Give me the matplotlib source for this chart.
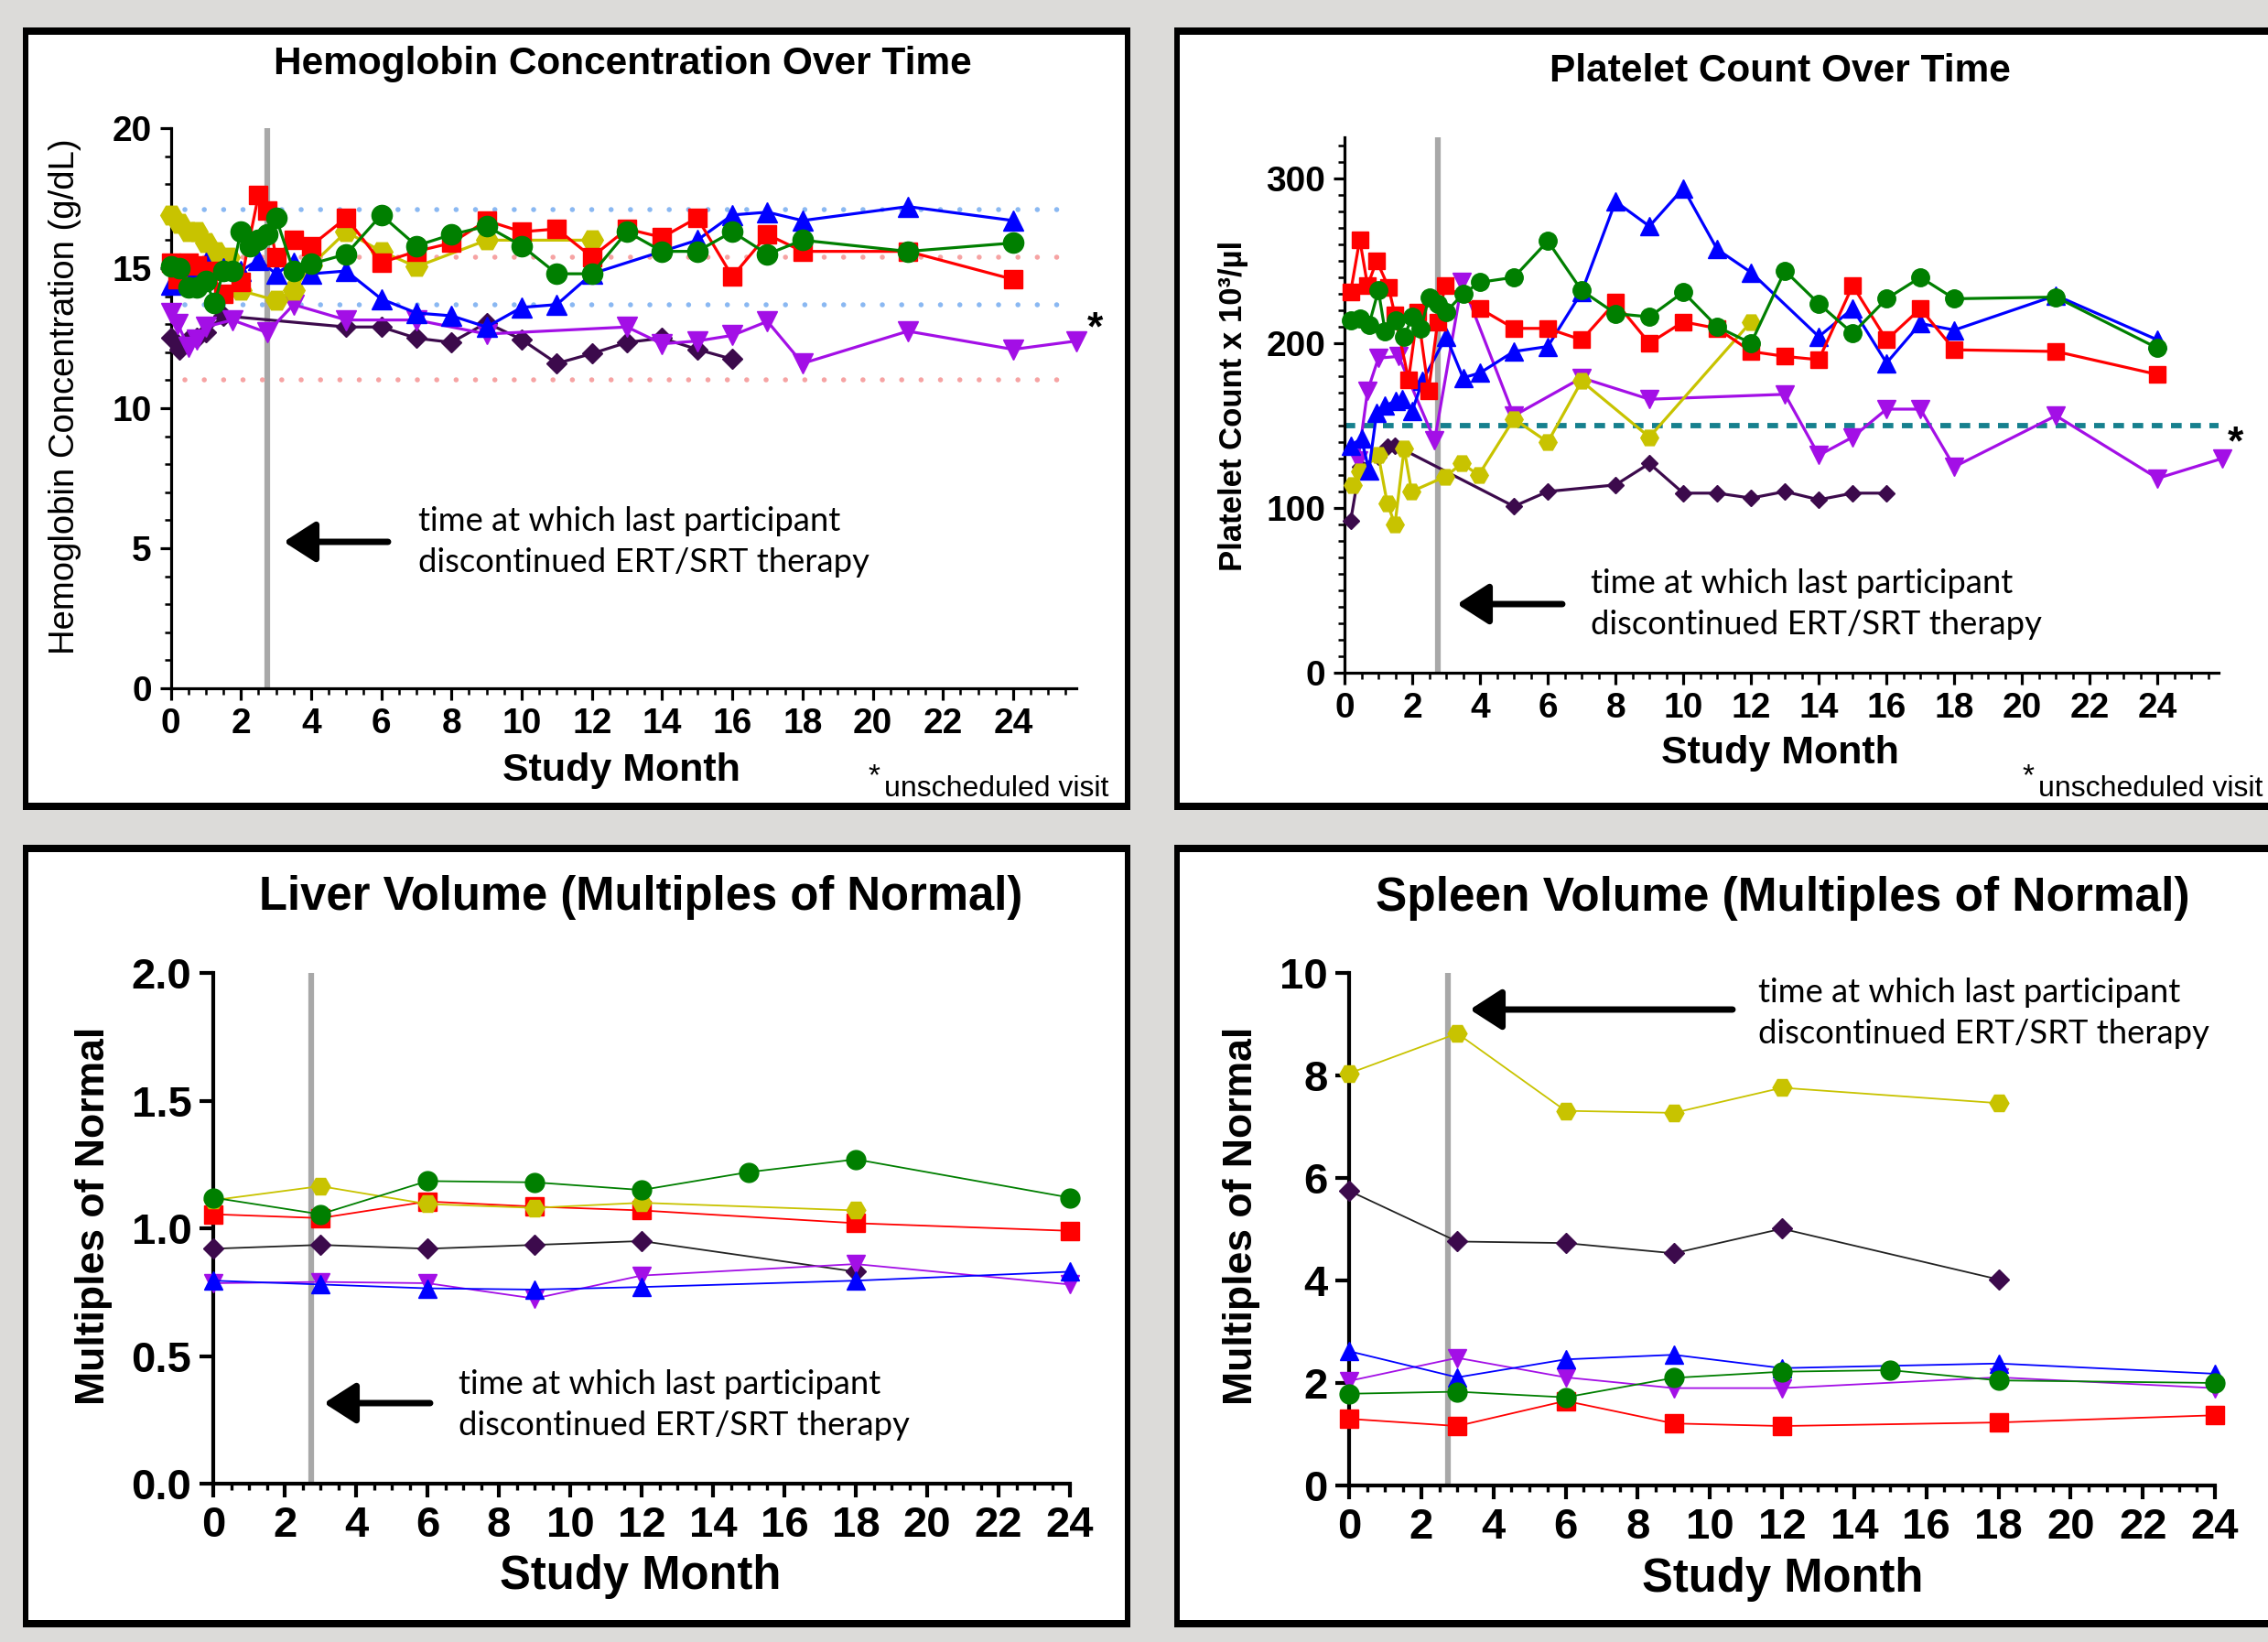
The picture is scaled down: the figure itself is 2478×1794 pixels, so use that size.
import matplotlib
matplotlib.use("Agg")
import matplotlib.pyplot as plt
from matplotlib.patches import Rectangle, FancyArrowPatch
from matplotlib.ticker import MultipleLocator, FormatStrFormatter

# ---------------- data ----------------
# Hemoglobin (g/dL)
hgb_t_dark = [0, 0.25, 0.5, 0.75, 1.0, 1.5, 5, 6, 7, 8, 9, 10, 11, 12, 13, 14, 15, 16]
hgb_dark = [12.5, 12.1, 12.45, 12.5, 12.7, 13.3, 12.9, 12.9, 12.5, 12.35, 13.05, 12.45, 11.6, 11.95, 12.35, 12.5, 12.1, 11.75]
hgb_t_purple = [0, 0.2, 0.5, 0.75, 1.0, 1.75, 2.75, 3.5, 5, 7, 9, 13, 14, 15, 16, 17, 18, 21, 24, 25.8]
hgb_purple = [13.4, 13.0, 12.2, 12.45, 12.9, 13.15, 12.7, 13.7, 13.15, 13.15, 12.65, 12.9, 12.3, 12.4, 12.6, 13.1, 11.6, 12.75, 12.1, 12.4]
hgb_t_yellow = [0, 0.25, 0.5, 0.75, 1.0, 1.3, 1.65, 2.0, 3.0, 3.5, 4, 5, 6, 7, 9, 12]
hgb_yellow = [16.9, 16.6, 16.3, 16.3, 15.9, 15.6, 15.4, 14.2, 13.85, 14.2, 15.1, 16.3, 15.6, 15.05, 16.0, 16.0]
hgb_t_blue = [0, 0.25, 0.5, 0.75, 1.0, 1.5, 2.0, 2.5, 3.0, 3.5, 4, 5, 6, 7, 8, 9, 10, 11, 12, 15, 16, 17, 18, 21, 24]
hgb_blue = [14.4, 14.8, 15.0, 14.8, 15.2, 15.0, 14.9, 15.3, 14.8, 15.2, 14.8, 14.9, 13.9, 13.4, 13.3, 12.9, 13.6, 13.7, 14.8, 16.0, 16.9, 17.0, 16.7, 17.2, 16.7]
hgb_t_red = [0, 0.2, 0.5, 0.75, 1.1, 1.5, 2.0, 2.5, 2.75, 3.0, 3.5, 4, 5, 6, 7, 8, 9, 10, 11, 12, 13, 14, 15, 16, 17, 18, 21, 24]
hgb_red = [15.2, 14.6, 15.2, 15.1, 14.9, 14.1, 14.5, 17.6, 17.05, 15.4, 16.0, 15.8, 16.8, 15.2, 15.6, 15.9, 16.7, 16.3, 16.4, 15.4, 16.4, 16.1, 16.8, 14.7, 16.2, 15.6, 15.6, 14.6]
hgb_t_green = [0, 0.25, 0.5, 0.75, 1.0, 1.25, 1.5, 1.75, 2.0, 2.25, 2.5, 2.75, 3.0, 3.5, 4, 5, 6, 7, 8, 9, 10, 11, 12, 13, 14, 15, 16, 17, 18, 21, 24]
hgb_green = [15.05, 15.0, 14.3, 14.3, 14.55, 13.75, 14.9, 14.9, 16.3, 15.8, 16.0, 16.2, 16.8, 14.9, 15.15, 15.5, 16.9, 15.8, 16.2, 16.5, 15.8, 14.8, 14.8, 16.3, 15.6, 15.6, 16.3, 15.5, 16.0, 15.6, 15.9]
hgb_ref_blue = [17.1, 13.7]
hgb_ref_red = [15.4, 11.0]

# Platelets (x10^3/ul)
plt_t_dark = [0.18, 0.45, 1.0, 1.26, 1.49, 5, 6, 8, 9, 10, 11, 12, 13, 14, 15, 16]
plt_dark = [92, 125, 131, 137, 138, 101, 110, 114, 127, 109, 109, 106, 110, 105, 109, 109]
plt_t_purple = [0.4, 0.68, 1.0, 1.6, 2.66, 3.47, 5, 7, 9, 13, 14, 15, 16, 17, 18, 21, 24, 25.9]
plt_purple = [129, 171, 191, 192, 141, 237, 156, 179, 166, 169, 132, 143, 160, 160, 125, 156, 118, 130]
plt_t_yellow = [0.23, 0.45, 1.0, 1.26, 1.49, 1.76, 1.98, 2.97, 3.47, 3.96, 5, 6, 7, 9, 12]
plt_yellow = [114, 122, 132, 103, 90, 136, 110, 119, 127, 120, 154, 140, 177, 143, 213]
plt_t_blue = [0.18, 0.5, 0.72, 0.95, 1.2, 1.5, 1.7, 2.0, 2.3, 3.0, 3.5, 4, 5, 6, 7, 8, 9, 10, 11, 12, 14, 15, 16, 17, 18, 21, 24]
plt_blue = [138, 142, 123, 158, 162, 165, 166, 159, 177, 204, 179, 182, 195, 198, 231, 286, 271, 294, 257, 243, 204, 221, 188, 212, 208, 229, 202]
plt_t_red = [0.18, 0.45, 0.68, 0.95, 1.3, 1.49, 1.89, 2.16, 2.48, 2.75, 2.97, 4, 5, 6, 7, 8, 9, 10, 11, 12, 13, 14, 15, 16, 17, 18, 21, 24]
plt_red = [231, 263, 235, 250, 234, 217, 178, 219, 171, 213, 235, 221, 209, 209, 202, 225, 200, 213, 209, 195, 192, 190, 235, 202, 221, 196, 195, 181]
plt_t_green = [0.18, 0.45, 0.72, 1.0, 1.2, 1.5, 1.76, 2.0, 2.25, 2.5, 2.75, 3.0, 3.5, 4, 5, 6, 7, 8, 9, 10, 11, 12, 13, 14, 15, 16, 17, 18, 21, 24]
plt_green = [214, 215, 211, 232, 207, 214, 204, 216, 209, 228, 224, 219, 230, 237, 240, 262, 232, 218, 216, 231, 210, 200, 244, 224, 206, 227, 240, 227, 228, 197]
plt_ref = 150

# Liver volume (multiples of normal)
liv_t_green = [0, 3, 6, 9, 12, 15, 18, 24]
liv_green = [1.12, 1.055, 1.185, 1.18, 1.15, 1.22, 1.27, 1.12]
liv_t_yellow = [0, 3, 6, 9, 12, 18]
liv_yellow = [1.11, 1.165, 1.095, 1.08, 1.10, 1.07]
liv_t_red = [0, 3, 6, 9, 12, 18, 24]
liv_red = [1.055, 1.04, 1.105, 1.085, 1.07, 1.02, 0.99]
liv_t_dark = [0, 3, 6, 9, 12, 18]
liv_dark = [0.92, 0.935, 0.92, 0.935, 0.95, 0.83]
liv_t_blue = [0, 3, 6, 9, 12, 18, 24]
liv_blue = [0.795, 0.78, 0.765, 0.76, 0.77, 0.795, 0.83]
liv_t_purple = [0, 3, 6, 9, 12, 18, 24]
liv_purple = [0.785, 0.79, 0.785, 0.725, 0.815, 0.86, 0.78]

# Spleen volume (multiples of normal)
spl_t_yellow = [0, 3, 6, 9, 12, 18]
spl_yellow = [8.04, 8.82, 7.31, 7.27, 7.76, 7.46]
spl_t_dark = [0, 3, 6, 9, 12, 18]
spl_dark = [5.75, 4.76, 4.73, 4.53, 5.01, 4.02]
spl_t_blue = [0, 3, 6, 9, 12, 18, 24]
spl_blue = [2.62, 2.11, 2.46, 2.55, 2.29, 2.38, 2.18]
spl_t_purple = [0, 3, 6, 9, 12, 18, 24]
spl_purple = [2.04, 2.49, 2.11, 1.90, 1.90, 2.11, 1.90]
spl_t_green = [0, 3, 6, 9, 12, 15, 18, 24]
spl_green = [1.79, 1.83, 1.72, 2.10, 2.22, 2.25, 2.05, 2.00]
spl_t_red = [0, 3, 6, 9, 12, 18, 24]
spl_red = [1.30, 1.16, 1.65, 1.21, 1.16, 1.23, 1.37]

stop_month = 2.75
note = "time at which last participant\ndiscontinued ERT/SRT therapy"

# ---------------- style ----------------
RED, GREEN, BLUE = "#ff0000", "#007f00", "#0000ff"
YELLOW, PURPLE, DARK = "#c8c300", "#a30fe6", "#3c0a4c"
BG = "#dcdbd9"
NOTE_FONT = ["Lato", "Liberation Sans", "DejaVu Sans"]

plt.rcParams["font.family"] = ["Liberation Sans", "DejaVu Sans"]
plt.rcParams["font.weight"] = "bold"

W, H = 2478, 1794
fig = plt.figure(figsize=(W / 100, H / 100), dpi=100, facecolor=BG)


def fx(x):
    return x / W


def fy(y):
    return 1 - y / H


def frame(x0, y0, x1, y1):
    fig.add_artist(Rectangle((fx(x0), fy(y1)), (x1 - x0) / W, (y1 - y0) / H,
                             transform=fig.transFigure, fc="black", ec="none", zorder=-2))
    fig.add_artist(Rectangle((fx(x0 + 6), fy(y1 - 8)), (x1 - x0 - 12) / W, (y1 - y0 - 16) / H,
                             transform=fig.transFigure, fc="white", ec="none", zorder=-1))


def make_axes(x0, x1, ytop, ybot):
    ax = fig.add_axes([fx(x0), fy(ybot), (x1 - x0) / W, (ybot - ytop) / H])
    ax.patch.set_visible(False)
    for s in ["top", "right"]:
        ax.spines[s].set_visible(False)
    return ax


def style(ax, xmax, ymax, ymaj, ymin, lw, fs, ylen=9):
    ax.set_xlim(0, xmax)
    ax.set_ylim(0, ymax)
    for s in ["left", "bottom"]:
        ax.spines[s].set_linewidth(lw)
    ax.xaxis.set_major_locator(MultipleLocator(2))
    ax.xaxis.set_minor_locator(MultipleLocator(0.5))
    ax.yaxis.set_major_locator(MultipleLocator(ymaj))
    if ymin:
        ax.yaxis.set_minor_locator(MultipleLocator(ymin))
    ax.tick_params(which="major", length=ylen, width=lw, labelsize=fs, pad=6)
    ax.tick_params(which="minor", length=5, width=lw * 0.8)


def series(ax, t, v, color, marker, ms, lw, lcolor=None, z=3):
    ax.plot(t, v, color=lcolor or color, lw=lw, marker=marker, ms=ms,
            mfc=color, mec=color, mew=1, clip_on=False, zorder=z)


def arrow(x_tail, x_head, y):
    fig.add_artist(FancyArrowPatch(
        (fx(x_tail), fy(y)), (fx(x_head), fy(y)), transform=fig.transFigure,
        arrowstyle="-|>,head_length=0.7,head_width=0.45", mutation_scale=30,
        lw=5, color="black", shrinkA=0, shrinkB=0))


def dotted(ax, yv, color, x0, x1):
    ax.plot([x0, x1], [yv, yv], color=color, lw=4, ls=(0, (0.01, 3.8)),
            dash_capstyle="round", zorder=1)


def note_text(x, y):
    fig.text(fx(x), fy(y), note, fontsize=26.2, ha="left", va="center",
             fontweight="normal", family=NOTE_FONT, linespacing=1.45)


# panels
frame(25, 30, 1235, 885)
frame(1283, 30, 2495, 885)
frame(25, 923, 1235, 1778)
frame(1283, 923, 2495, 1778)

# ---- Hemoglobin ----
ax1 = make_axes(186.5, 1176, 140, 752)
style(ax1, 25.8, 20, 5, 1, 2.3, 28)
ax1.axvline(stop_month, color="#a8a8a8", lw=4.5, zorder=1)
for yv in hgb_ref_blue:
    dotted(ax1, yv, "#8ab8f2", 0.4, 25.7)
for yv in hgb_ref_red:
    dotted(ax1, yv, "#f6a3a3", 0.4, 25.7)
series(ax1, hgb_t_dark, hgb_dark, DARK, "D", 11, 2.3)
series(ax1, hgb_t_purple, hgb_purple, PURPLE, "v", 16, 2.3)
series(ax1, hgb_t_yellow, hgb_yellow, YELLOW, "H", 17, 2.3)
series(ax1, hgb_t_blue, hgb_blue, BLUE, "^", 16, 2.3)
series(ax1, hgb_t_red, hgb_red, RED, "s", 14.5, 2.3)
series(ax1, hgb_t_green, hgb_green, GREEN, "o", 16, 2.3)
fig.text(fx(680), fy(70), "Hemoglobin Concentration Over Time", fontsize=30.5,
         ha="center", va="center")
fig.text(fx(71), fy(433), "Hemoglobin Concentration (g/dL)", fontsize=27.5,
         rotation=90, ha="center", va="center", fontweight="normal")
fig.text(fx(679), fy(842), "Study Month", fontsize=31, ha="center", va="center")
fig.text(fx(1196), fy(360), "*", fontsize=32, ha="center", va="center")
fig.text(fx(955), fy(849), "*", fontsize=24, ha="center", va="center", fontweight="normal")
fig.text(fx(966), fy(862), "unscheduled visit", fontsize=23, ha="left", va="center",
         fontweight="normal")
note_text(457, 592)
arrow(424, 310, 592)

# ---- Platelets ----
ax2 = make_axes(1469, 2424, 150, 735)
style(ax2, 25.8, 325, 100, 10, 2.3, 28)
ax2.axvline(stop_month, color="#a8a8a8", lw=4.5, zorder=1)
ax2.plot([0, 25.8], [plt_ref, plt_ref], color="#16808e", lw=4.2, ls=(0, (2.0, 1.6)), zorder=1)
series(ax2, plt_t_dark, plt_dark, DARK, "D", 9.5, 2.3)
series(ax2, plt_t_purple, plt_purple, PURPLE, "v", 14, 2.3)
series(ax2, plt_t_yellow, plt_yellow, YELLOW, "H", 14, 2.3)
series(ax2, plt_t_blue, plt_blue, BLUE, "^", 14, 2.3)
series(ax2, plt_t_red, plt_red, RED, "s", 13, 2.3)
series(ax2, plt_t_green, plt_green, GREEN, "o", 14, 2.3)
fig.text(fx(1945), fy(78), "Platelet Count Over Time", fontsize=30.5,
         ha="center", va="center")
fig.text(fx(1348), fy(443), "Platelet Count x 10³/µl", fontsize=25,
         rotation=90, ha="center", va="center")
fig.text(fx(1945), fy(823), "Study Month", fontsize=31, ha="center", va="center")
fig.text(fx(2442), fy(485), "*", fontsize=32, ha="center", va="center")
fig.text(fx(2216), fy(849), "*", fontsize=24, ha="center", va="center", fontweight="normal")
fig.text(fx(2227), fy(862), "unscheduled visit", fontsize=23, ha="left", va="center",
         fontweight="normal")
note_text(1738, 660)
arrow(1707, 1592, 660)

# ---- Liver ----
ax3 = make_axes(233, 1169, 1063, 1621)
style(ax3, 24, 2.0, 0.5, None, 3, 34, ylen=11)
ax3.yaxis.set_major_formatter(FormatStrFormatter("%.1f"))
ax3.axvline(stop_month, color="#a8a8a8", lw=4.5, zorder=1)
series(ax3, liv_t_dark, liv_dark, DARK, "D", 11, 1.3, lcolor="#222222")
series(ax3, liv_t_purple, liv_purple, PURPLE, "v", 15, 1.3)
series(ax3, liv_t_red, liv_red, RED, "s", 14, 1.3)
series(ax3, liv_t_yellow, liv_yellow, YELLOW, "H", 15, 1.3)
series(ax3, liv_t_blue, liv_blue, BLUE, "^", 15, 1.3)
series(ax3, liv_t_green, liv_green, GREEN, "o", 15, 1.3)
fig.text(fx(700), fy(980), "Liver Volume (Multiples of Normal)", fontsize=36.5,
         ha="center", va="center")
fig.text(fx(103), fy(1328), "Multiples of Normal", fontsize=32,
         rotation=90, ha="center", va="center")
fig.text(fx(700), fy(1722), "Study Month", fontsize=36.5, ha="center", va="center")
note_text(501, 1535)
arrow(470, 354, 1533)

# ---- Spleen ----
ax4 = make_axes(1474, 2420, 1063, 1623)
style(ax4, 24, 10, 2, None, 3, 34, ylen=11)
ax4.axvline(stop_month, color="#a8a8a8", lw=4.5, zorder=1)
series(ax4, spl_t_dark, spl_dark, DARK, "D", 11, 1.3, lcolor="#222222")
series(ax4, spl_t_yellow, spl_yellow, YELLOW, "H", 15, 1.3)
series(ax4, spl_t_red, spl_red, RED, "s", 14, 1.3)
series(ax4, spl_t_purple, spl_purple, PURPLE, "v", 15, 1.3)
series(ax4, spl_t_blue, spl_blue, BLUE, "^", 15, 1.3)
series(ax4, spl_t_green, spl_green, GREEN, "o", 15, 1.3)
fig.text(fx(1948), fy(981), "Spleen Volume (Multiples of Normal)", fontsize=37,
         ha="center", va="center")
fig.text(fx(1356), fy(1328), "Multiples of Normal", fontsize=32,
         rotation=90, ha="center", va="center")
fig.text(fx(1948), fy(1725), "Study Month", fontsize=36.5, ha="center", va="center")
note_text(1921, 1107)
arrow(1893, 1606, 1103)

fig.savefig("out.png", dpi=100, facecolor=BG)
